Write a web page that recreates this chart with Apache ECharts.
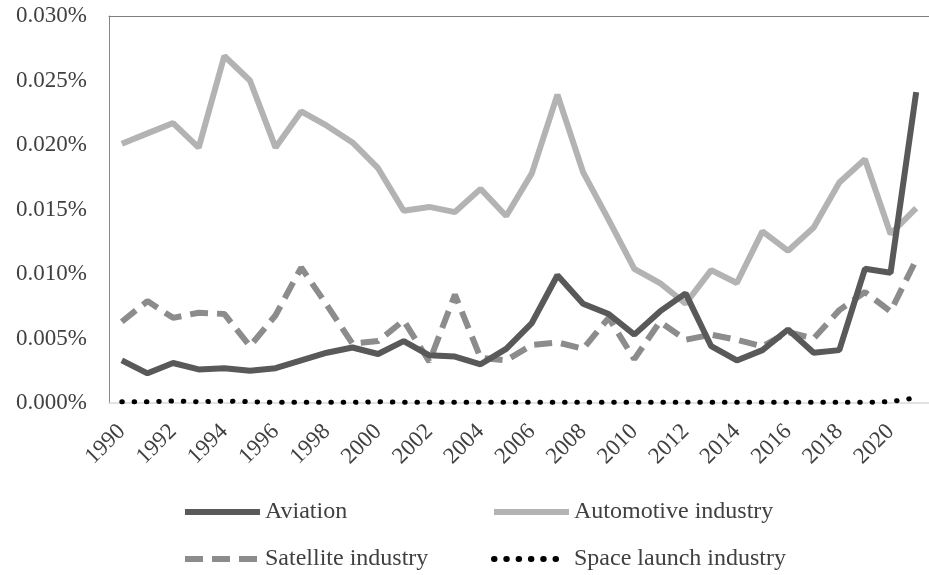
<!DOCTYPE html>
<html>
<head>
<meta charset="utf-8">
<style>
html, body { margin: 0; padding: 0; background: #fff; }
#chart { width: 929px; height: 575px; }
</style>
<script src="https://cdn.jsdelivr.net/npm/echarts@6/dist/echarts.min.js"></script>
</head>
<body>
<div id="chart"></div>
<script>
// values in percent
var years = [];
for (var y = 1990; y <= 2021; y++) years.push(String(y));

var aviation = [0.0033, 0.0023, 0.0031, 0.0026, 0.0027, 0.0025, 0.0027, 0.0033, 0.0039, 0.0043,
    0.0038, 0.0048, 0.0037, 0.0036, 0.0030, 0.0042, 0.0062, 0.0099, 0.0077, 0.0069,
    0.0053, 0.0071, 0.0085, 0.0044, 0.0033, 0.0041, 0.0057, 0.0039, 0.0041, 0.0104,
    0.0101, 0.0241];
var automotive = [0.0201, 0.0209, 0.0217, 0.0198, 0.0269, 0.0250, 0.0198, 0.0226, 0.0215, 0.0202,
    0.0182, 0.0149, 0.0152, 0.0148, 0.0166, 0.0145, 0.0178, 0.0239, 0.0179, 0.0142,
    0.0104, 0.0093, 0.0077, 0.0103, 0.0093, 0.0133, 0.0118, 0.0136, 0.0171, 0.0189,
    0.0131, 0.0151];
var satellite = [0.0063, 0.0079, 0.0066, 0.0070, 0.0069, 0.0044, 0.0068, 0.0105, 0.0076, 0.0046,
    0.0048, 0.0064, 0.0032, 0.0084, 0.0035, 0.0033, 0.0045, 0.0047, 0.0042, 0.0066,
    0.0034, 0.0063, 0.0049, 0.0053, 0.0049, 0.0044, 0.0055, 0.0050, 0.0072, 0.0086,
    0.0071, 0.0111];
var spaceLaunch = [0.0001, 0.0001, 0.00015, 0.0001, 0.00015, 0.0001, 0.00005, 0.00005, 0.00005, 0.00005,
    0.0001, 0.00005, 0.00005, 0.00005, 0.00005, 0.00005, 0.00005, 0.00005, 0.00005, 0.00005,
    0.00005, 0.00005, 0.00005, 0.00005, 0.00005, 0.00005, 0.00005, 0.00005, 0.00005, 0.00005,
    0.0001, 0.0004];

var font = '"Liberation Serif", "Times New Roman", serif';
var chart = echarts.init(document.getElementById('chart'));

function legendAt(name, left, top, w, gap) {
    return {
        data: [name],
        left: left,
        top: top,
        padding: 0,
        itemWidth: w,
        itemHeight: 14,
        itemStyle: { opacity: 0 },
        lineStyle: { width: 6 },
        textStyle: { fontFamily: font, fontSize: 24, color: '#404040', padding: [0, 0, 0, gap] }
    };
}

var option = {
    animation: false,
    legend: [
        legendAt('Aviation', 182, 500, 75, 0),
        legendAt('Automotive industry', 491, 500, 75, 0),
        legendAt('Satellite industry', 182, 547, 75, 0),
        legendAt('Space launch industry', 491, 547, 66, 9)
    ],
    grid: { left: 109, right: -9, top: 16, bottom: 172, containLabel: false },
    xAxis: [{
        type: 'category',
        data: years,
        boundaryGap: true,
        axisLine: { lineStyle: { color: '#d9d9d9', width: 1.5 } },
        axisTick: { show: false },
        axisLabel: {
            interval: 1,
            rotate: 45,
            margin: 25,
            fontFamily: font,
            fontSize: 23,
            color: '#404040'
        }
    }, {
        type: 'category',
        data: years,
        position: 'top',
        axisLine: { lineStyle: { color: '#7f7f7f', width: 1 } },
        axisTick: { show: false },
        axisLabel: { show: false }
    }],
    yAxis: {
        type: 'value',
        min: 0,
        max: 0.030,
        interval: 0.005,
        axisLine: { show: true, lineStyle: { color: '#868686', width: 1 } },
        axisTick: { show: false },
        splitLine: { show: false },
        axisLabel: {
            margin: 22,
            fontFamily: font,
            fontSize: 23,
            color: '#404040',
            formatter: function (v) { return v.toFixed(3) + '%'; }
        }
    },
    series: [{
        name: 'Aviation',
        type: 'line',
        data: aviation,
        symbol: 'none',
        lineStyle: { color: '#595959', width: 6 },
        itemStyle: { color: '#595959' },
        z: 4
    }, {
        name: 'Automotive industry',
        type: 'line',
        data: automotive,
        symbol: 'none',
        lineStyle: { color: '#b3b3b3', width: 6 },
        itemStyle: { color: '#b3b3b3' },
        z: 3
    }, {
        name: 'Satellite industry',
        type: 'line',
        data: satellite,
        symbol: 'none',
        lineStyle: { color: '#8c8c8c', width: 6, type: [18, 9] },
        itemStyle: { color: '#8c8c8c' },
        z: 2
    }, {
        name: 'Space launch industry',
        type: 'line',
        data: spaceLaunch,
        symbol: 'none',
        lineStyle: { color: '#000000', width: 5, type: [0.5, 11.8], cap: 'round' },
        itemStyle: { color: '#000000' },
        z: 5
    }]
};
chart.setOption(option);
</script>
</body>
</html>
